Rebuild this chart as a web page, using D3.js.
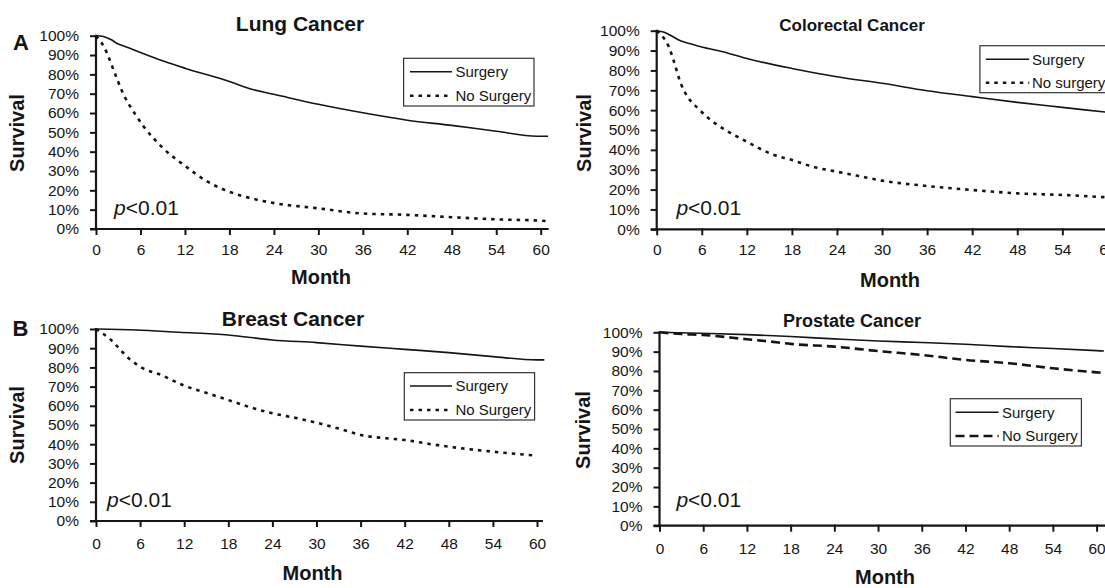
<!DOCTYPE html>
<html>
<head>
<meta charset="utf-8">
<script src="https://cdn.jsdelivr.net/npm/d3@7"></script>
<style>
  html, body { margin: 0; padding: 0; background: #fff; overflow: hidden; }
  svg { display: block; font-family: "Liberation Sans", Arial, Helvetica, sans-serif; }
</style>
</head>
<body>
<svg id="chart" width="1105" height="588"></svg>
<script>
// ---------- data (month, survival %) ----------
const monthTicks = [0, 6, 12, 18, 24, 30, 36, 42, 48, 54, 60];
const survivalTicks = [0, 10, 20, 30, 40, 50, 60, 70, 80, 90, 100];

const lungSurgery = [[0,100],[1,99.6],[2,98],[3,95.7],[4,94.3],[6,91.3],[9,87],[12,83.2],[18,76.3],[21,72.3],[24,69.7],[30,64.5],[36,60.1],[42,56.3],[48,53.6],[54,50.6],[59.5,48],[61,48]];
const lungNoSurgery = [[0,100],[1,94.8],[2.6,80],[3.5,71.4],[5.3,59.3],[6.4,53.2],[9,42],[12.1,32.4],[15,24.6],[17.9,19.4],[20.8,16],[24.2,13.3],[30,10.7],[35.7,8.1],[42,7.3],[48,6.1],[54,5],[60,4.3],[61,4]];

const colorectalSurgery = [[0,100],[1,99.2],[2,97.3],[3,95.2],[4.5,93.4],[6,91.8],[8.8,89.4],[12,86],[18,81],[24,76.8],[30,73.5],[36,69.8],[42,66.8],[48,63.9],[54,61.4],[60,58.9]];
const colorectalNoSurgery = [[0,100],[1,96],[1.6,92],[2.3,84.4],[3.2,73.5],[4.1,66.8],[5.5,60.9],[6.9,55.9],[8.8,50.8],[12,44.1],[15.3,37.9],[18,34.9],[20.8,31.5],[24,29],[26.9,26.8],[30,24.5],[36,21.8],[42,19.8],[48,18.1],[54,17.3],[60,16.1]];

const breastSurgery = [[0,100],[5.5,99.5],[11.3,98.3],[18,96.9],[24,94.3],[30,92.9],[36,91.1],[42,89.4],[48,87.7],[54,85.6],[60,83.9],[61,83.9]];
const breastNoSurgery = [[0,100],[1.8,95.1],[4.7,83.9],[6.4,79.5],[8.9,76],[11.8,70.8],[15.2,66.5],[18,63],[21,59.2],[24,56.1],[27.4,53.5],[30.3,50.9],[33.7,47.4],[36,44.8],[39.5,43.1],[42,42.2],[45.4,40.1],[48,38.7],[51.7,37],[54,36.1],[60,34]];

const prostateSurgery = [[0,100],[5.4,99.5],[12,98.8],[18,97.8],[24,96.6],[30,95.5],[36,94.7],[42,93.8],[48,92.6],[54,91.6],[60,90.5],[61,90.3]];
const prostateNoSurgery = [[0,100],[3,99.1],[6,98.6],[12,96.4],[15,95.3],[18,94],[24,92.6],[30,90.3],[36,88.3],[42,85.7],[48,84],[54,81.4],[60,79.3],[61,79]];

const panelTitles = ["Lung Cancer", "Colorectal Cancer", "Breast Cancer", "Prostate Cancer"];
const legendLabels = [["Surgery","No Surgery"],["Surgery","No surgery"],["Surgery","No Surgery"],["Surgery","No Surgery"]];
const panelLetters = ["A", null, "B", null];
const pLabel = "p";
const pRest = "<0.01";

// ---------- layout ----------
const panels = [
  { title: panelTitles[0], s: lungSurgery, n: lungNoSurgery, legend: legendLabels[0], letter: panelLetters[0],
    x0: 96, x60: 540.7, y0: 229, y100: 35.7, axisEnd: 548.7, titleX: 300, titleY: 24, titleSize: 21,
    letterX: 13, letterY: 50, survX: 17, survY: 133, monthX: 321, monthY: 277, xtickY: 250,
    pX: 114, pY: 208, leg: { x: 403.6, y: 58.3, w: 130.4, h: 47.7, l1: 71.7, l2: 95.7, lx0: 410, lx1: 452, tx: 455.4 },
    noDash: "3.5,5", noWidth: 2.6 },
  { title: panelTitles[1], s: colorectalSurgery, n: colorectalNoSurgery, legend: legendLabels[1], letter: null,
    x0: 656.7, x60: 1107.4, y0: 229.3, y100: 30.7, axisEnd: 1115, titleX: 852, titleY: 25, titleSize: 17,
    survX: 584.3, survY: 133, monthX: 890, monthY: 280, xtickY: 250,
    pX: 676.4, pY: 208, leg: { x: 979.9, y: 45.7, w: 135, h: 47, l1: 59.3, l2: 82.7, lx0: 985.8, lx1: 1029.2, tx: 1032 },
    noDash: "3.5,5", noWidth: 2.6 },
  { title: panelTitles[2], s: breastSurgery, n: breastNoSurgery, legend: legendLabels[2], letter: panelLetters[2],
    x0: 96, x60: 537, y0: 521, y100: 329, axisEnd: 543, titleX: 293, titleY: 319, titleSize: 21,
    letterX: 12.5, letterY: 336, survX: 17, survY: 425, monthX: 312.5, monthY: 573, xtickY: 543.5,
    pX: 107, pY: 500, leg: { x: 404.3, y: 372.7, w: 130.3, h: 47.3, l1: 386, l2: 410, lx0: 410, lx1: 452, tx: 455.4 },
    noDash: "3.5,5", noWidth: 2.6 },
  { title: panelTitles[3], s: prostateSurgery, n: prostateNoSurgery, legend: legendLabels[3], letter: null,
    x0: 659.5, x60: 1096.6, y0: 525.7, y100: 332.3, axisEnd: 1110, titleX: 852, titleY: 321, titleSize: 18,
    survX: 582.6, survY: 430, monthX: 885, monthY: 576.7, xtickY: 548.3,
    pX: 676.4, pY: 500, leg: { x: 950.3, y: 398.7, w: 131.1, h: 47.3, l1: 412.3, l2: 436, lx0: 955.5, lx1: 998.6, tx: 1002 },
    noDash: "9,5", noWidth: 2.6 }
];

const ink = "#151515";
const svg = d3.select("#chart");

panels.forEach(p => {
  const g = svg.append("g");
  const x = d3.scaleLinear().domain([0, 60]).range([p.x0, p.x60]);
  const y = d3.scaleLinear().domain([0, 100]).range([p.y0, p.y100]);

  // y axis
  const yAxis = d3.axisLeft(y).tickValues(survivalTicks).tickFormat(d => d + "%").tickSize(6).tickPadding(11);
  const ya = g.append("g").attr("transform", `translate(${p.x0},0)`).call(yAxis);
  ya.select(".domain").remove();
  ya.selectAll(".tick line").attr("stroke", ink).attr("stroke-width", 2);
  ya.selectAll(".tick text").attr("fill", ink).attr("font-size", 15.5).attr("font-family", "Liberation Sans, Arial, sans-serif");

  // x axis
  const xAxis = d3.axisBottom(x).tickValues(monthTicks).tickSize(6).tickPadding(0);
  const xa = g.append("g").attr("transform", `translate(0,${p.y0})`).call(xAxis);
  xa.select(".domain").remove();
  xa.selectAll(".tick line").attr("stroke", ink).attr("stroke-width", 2).attr("y1", -1);
  xa.selectAll(".tick text").attr("fill", ink).attr("font-size", 15.5)
    .attr("font-family", "Liberation Sans, Arial, sans-serif")
    .attr("y", p.xtickY - p.y0).attr("dy", "0.35em");

  // axis lines
  g.append("line").attr("x1", p.x0).attr("x2", p.x0).attr("y1", p.y100 - 1).attr("y2", p.y0 + 1)
    .attr("stroke", ink).attr("stroke-width", 2.2);
  g.append("line").attr("x1", p.x0 - 6).attr("x2", p.axisEnd).attr("y1", p.y0).attr("y2", p.y0)
    .attr("stroke", ink).attr("stroke-width", 2.2);

  // curves
  const line = d3.line().x(d => x(d[0])).y(d => y(d[1])).curve(d3.curveMonotoneX);
  g.append("path").datum(p.s).attr("d", line).attr("fill", "none").attr("stroke", ink).attr("stroke-width", 1.6);
  g.append("path").datum(p.n).attr("d", line).attr("fill", "none").attr("stroke", ink)
    .attr("stroke-width", p.noWidth).attr("stroke-dasharray", p.noDash);

  // title
  g.append("text").attr("x", p.titleX).attr("y", p.titleY).attr("dy", "0.35em").attr("text-anchor", "middle")
    .attr("font-weight", "bold").attr("font-size", p.titleSize).attr("fill", ink).text(p.title);

  // panel letter
  if (p.letter) {
    g.append("text").attr("x", p.letterX).attr("y", p.letterY).attr("font-weight", "bold")
      .attr("font-size", 22).attr("fill", ink).text(p.letter);
  }

  // axis titles
  g.append("text").attr("transform", `translate(${p.survX},${p.survY}) rotate(-90)`).attr("dy", "0.35em")
    .attr("text-anchor", "middle").attr("font-weight", "bold").attr("font-size", 20).attr("fill", ink).text("Survival");
  g.append("text").attr("x", p.monthX).attr("y", p.monthY).attr("dy", "0.35em").attr("text-anchor", "middle")
    .attr("font-weight", "bold").attr("font-size", 20).attr("fill", ink).text("Month");

  // p value
  const pt = g.append("text").attr("x", p.pX).attr("y", p.pY).attr("dy", "0.35em").attr("font-size", 21).attr("fill", ink);
  pt.append("tspan").attr("font-style", "italic").text(pLabel);
  pt.append("tspan").text(pRest);

  // legend
  const L = p.leg;
  g.append("rect").attr("x", L.x).attr("y", L.y).attr("width", L.w).attr("height", L.h)
    .attr("fill", "#fff").attr("stroke", "#333").attr("stroke-width", 1.2);
  g.append("line").attr("x1", L.lx0).attr("x2", L.lx1).attr("y1", L.l1).attr("y2", L.l1)
    .attr("stroke", ink).attr("stroke-width", 1.6);
  g.append("line").attr("x1", L.lx0).attr("x2", L.lx1).attr("y1", L.l2).attr("y2", L.l2)
    .attr("stroke", ink).attr("stroke-width", p.noWidth).attr("stroke-dasharray", p.noDash);
  g.append("text").attr("x", L.tx).attr("y", L.l1).attr("dy", "0.35em").attr("font-size", 15).attr("fill", ink).text(p.legend[0]);
  g.append("text").attr("x", L.tx).attr("y", L.l2).attr("dy", "0.35em").attr("font-size", 15).attr("fill", ink).text(p.legend[1]);
});
</script>
</body>
</html>
